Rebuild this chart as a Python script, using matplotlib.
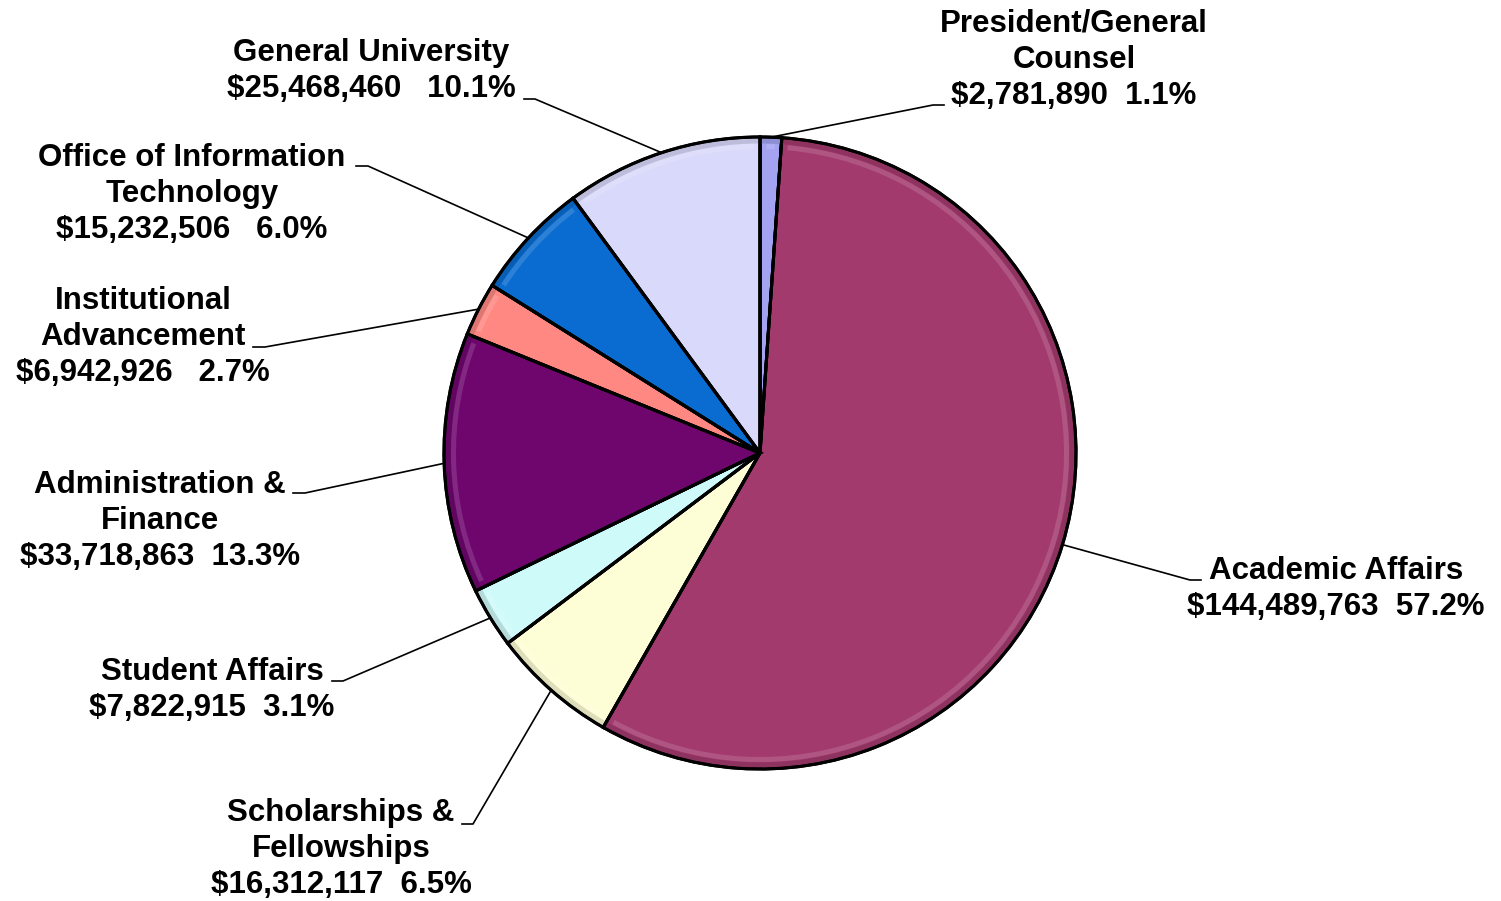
import matplotlib
matplotlib.use("Agg")
import matplotlib.pyplot as plt
import numpy as np
from matplotlib.patches import Wedge
import matplotlib.colors as mcolors

names = ["President/General\nCounsel", "Academic Affairs", "Scholarships &\nFellowships",
         "Student Affairs", "Administration &\nFinance", "Institutional\nAdvancement",
         "Office of Information\nTechnology", "General University"]
values = [2781890, 144489763, 16312117, 7822915, 33718863, 6942926, 15232506, 25468460]
pct_labels = ["1.1%", "57.2%", "6.5%", "3.1%", "13.3%", "2.7%", "6.0%", "10.1%"]
gaps = ["  ", "  ", "  ", "  ", "  ", "   ", "   ", "   "]
colors = ["#A3A3F2", "#A33A6E", "#FEFED6", "#CFFAFA", "#6E066E", "#FF8882", "#0A6CD0", "#D9D9FB"]

# layout (pixel coordinates)
W, H = 1501, 901
center = (760, 453)
radius = 316
label_pos = [(1074, 60), (1336, 589), (341, 849), (212, 690), (160, 521), (143, 337), (192, 194), (371, 71)]
kinks = [((933, 105), (944, 105)), ((1190, 580), (1201, 580)), ((473, 824), (462, 824)),
         ((343, 681), (332, 681)), ((305, 493), (293, 493)), ((265, 347), (253, 347)),
         ((368, 166), (356, 166)), ((535, 99), (524, 99))]

fig = plt.figure(figsize=(W / 100, H / 100), dpi=100)
ax = fig.add_axes([0, 0, 1, 1])

cx, cy = center[0], H - center[1]
wedges, _ = ax.pie(values, colors=colors, startangle=90, counterclock=False,
                   center=(cx, cy), radius=radius, frame=True,
                   wedgeprops=dict(edgecolor="black", linewidth=2.2))
ax.set_xlim(0, W)
ax.set_ylim(0, H)
ax.set_aspect("equal")
ax.axis("off")

# subtle bevel: lighter inner band and darker outer rim
for w, c in zip(wedges, colors):
    rgb = np.array(mcolors.to_rgb(c))
    light = np.clip(rgb + (1 - rgb) * 0.4, 0, 1)
    dark = rgb * 0.75
    ax.add_patch(Wedge((cx, cy), radius - 1.5, w.theta1, w.theta2, width=5,
                       facecolor=dark, edgecolor="none", alpha=0.5, zorder=w.get_zorder() + 0.1))
    ax.add_patch(Wedge((cx, cy), radius - 7, w.theta1 + 1.2, w.theta2 - 1.2, width=5,
                       facecolor=light, edgecolor="none", alpha=0.35, zorder=w.get_zorder() + 0.1))
    ax.add_patch(Wedge((cx, cy), radius, w.theta1, w.theta2, facecolor="none",
                       edgecolor="black", linewidth=2.2, zorder=w.get_zorder() + 0.2))

for i, w in enumerate(wedges):
    mid = np.deg2rad((w.theta1 + w.theta2) / 2)
    sx = cx + radius * np.cos(mid)
    sy = cy + radius * np.sin(mid)
    (kx, ky), (ex, ey) = kinks[i]
    ax.plot([sx, kx, ex], [sy, H - ky, H - ey], color="black", lw=1.2, zorder=1)
    txt = f"{names[i]}\n${values[i]:,}{gaps[i]}{pct_labels[i]}"
    lx, ly = label_pos[i]
    ax.text(lx, H - ly, txt, ha="center", va="center", fontsize=22.5,
            fontweight="bold", family="Liberation Sans", linespacing=1.27)

fig.savefig("out.png", dpi=100)
